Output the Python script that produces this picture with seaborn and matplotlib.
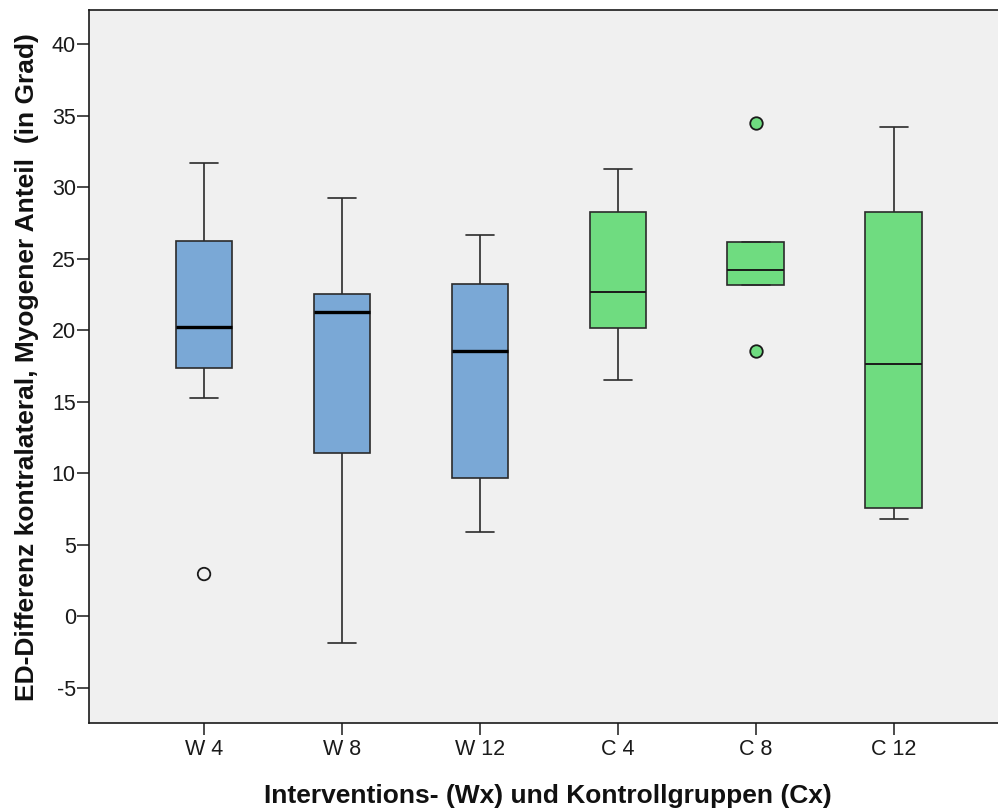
import numpy as np
import pandas as pd
import matplotlib
matplotlib.use("Agg")
import matplotlib.pyplot as plt
import seaborn as sns

# ---- data ----
categories = ["W 4", "W 8", "W 12", "C 4", "C 8", "C 12"]
# five-number summaries: lower whisker, Q1, median, Q3, upper whisker
w4 = [15.27, 17.36, 20.23, 26.22, 31.70]
w8 = [-1.91, 11.38, 21.28, 22.52, 29.21]
w12 = [5.87, 9.67, 18.53, 23.22, 26.62]
c4 = [16.50, 20.12, 22.64, 28.25, 31.26]
c8 = [23.15, 23.15, 24.17, 26.17, 26.17]
c12 = [6.76, 7.57, 17.60, 28.23, 34.20]
outlier_groups_hollow = ["W 4"]
outlier_values_hollow = [2.94]
outlier_groups_filled = ["C 8", "C 8"]
outlier_values_filled = [34.50, 18.55]

blue = "#7AA8D6"
green = "#6FDC80"

sns.set_theme(style="white")
plt.rcParams["font.family"] = ["Liberation Sans", "DejaVu Sans"]
plt.rcParams["axes.unicode_minus"] = False

df = pd.DataFrame({
    "Gruppe": np.repeat(categories, 5),
    "Wert": np.concatenate([w4, w8, w12, c4, c8, c12]),
})
df_w = df[df["Gruppe"].str.startswith("W")]
df_c = df[df["Gruppe"].str.startswith("C")]

fig = plt.figure(figsize=(9.98, 8.10), dpi=100)
ax = fig.add_axes([0.0892, 0.107, 0.92, 0.8806])
ax.set_facecolor("#F0F0F0")

common = dict(x="Gruppe", y="Wert", order=categories, whis=(0, 100),
              showfliers=False, width=0.41, saturation=1, ax=ax,
              linecolor="#2b2b2b", linewidth=1.2)
sns.boxplot(data=df_w, color=blue,
            medianprops=dict(color="black", linewidth=2.4), **common)
sns.boxplot(data=df_c, color=green,
            medianprops=dict(color="#1a1a1a", linewidth=1.4), **common)

sns.stripplot(x=outlier_groups_hollow, y=outlier_values_hollow, order=categories,
              jitter=False, ax=ax, size=9, color="none", edgecolor="#1a1a1a",
              linewidth=1.3, native_scale=False)
sns.stripplot(x=outlier_groups_filled, y=outlier_values_filled, order=categories,
              jitter=False, ax=ax, size=9, color=green, edgecolor="#1a1a1a",
              linewidth=1.3, native_scale=False)

ax.set_xlim(-0.834, 5.823)
ax.set_ylim(-7.5, 42.38)
ax.set_yticks(np.arange(-5, 41, 5))
ax.set_xticks(range(len(categories)))
ax.set_xticklabels(categories)

for side in ["left", "bottom", "top"]:
    ax.spines[side].set_visible(True)
    ax.spines[side].set_color("#1a1a1a")
    ax.spines[side].set_linewidth(1.2)
ax.spines["right"].set_visible(False)

ax.tick_params(axis="both", direction="out", length=8.5, width=1.1,
               color="#1a1a1a", labelsize=15.5, labelcolor="#1a1a1a",
               bottom=True, left=True)
ax.tick_params(axis="y", pad=1)
ax.tick_params(axis="x", pad=3)

ax.set_xlabel("Interventions- (Wx) und Kontrollgruppen (Cx)", fontsize=19,
              fontweight="bold", color="#111111", labelpad=17)
ax.set_ylabel("ED-Differenz kontralateral, Myogener Anteil  (in Grad)",
              fontsize=19, fontweight="bold", color="#111111", labelpad=9)

fig.savefig("out.png", dpi=100, facecolor="white")
